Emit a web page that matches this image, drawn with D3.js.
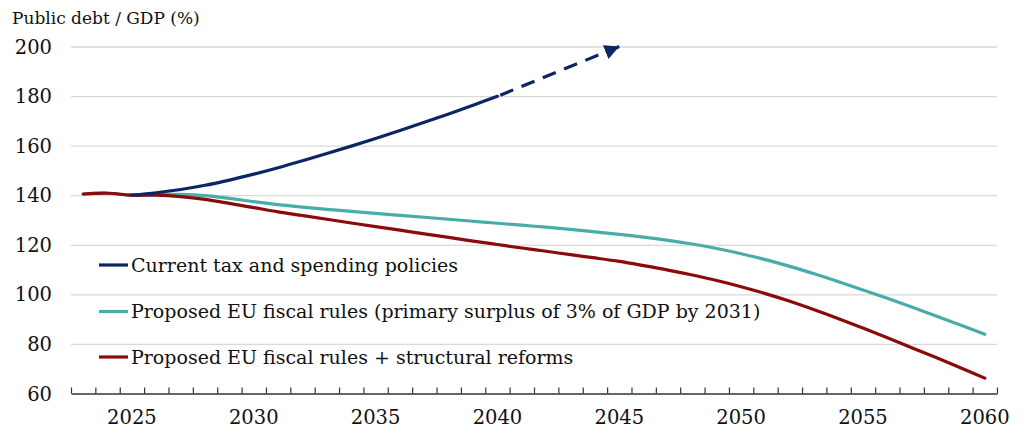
<!DOCTYPE html>
<html>
<head>
<meta charset="utf-8">
<script src="https://cdn.jsdelivr.net/npm/d3@7"></script>
<style>
  body { margin: 0; background: #fff; }
  svg { display: block; font-family: "DejaVu Serif", "Liberation Serif", serif; }
  .grid line { stroke: #d9d9d9; stroke-width: 1.3; }
  .grid path { display: none; }
</style>
</head>
<body>
<div id="chart"></div>
<script>
// years on the category axis
const years = d3.range(2023, 2061);
const labelYears = [2025, 2030, 2035, 2040, 2045, 2050, 2055, 2060];
const yTicks = [60, 80, 100, 120, 140, 160, 180, 200];

// Current tax and spending policies (2025-2040), then the projection arrow
const currentYears = d3.range(2025, 2041);
const currentValues = [140, 141, 142.3, 144, 146.1, 148.5, 151.1, 153.9, 156.8, 159.8, 162.9, 166.1, 169.4, 172.8, 176.3, 179.9];
const projectionYears = [2040, 2045];
const projectionValues = [179.9, 200];

// Proposed EU fiscal rules
const rulesValues = [140.5, 140.8, 140, 140.3, 140.3, 139.8, 138.7, 137.4, 136.2, 135.2, 134.3, 133.5, 132.7, 131.9, 131.1, 130.3, 129.5, 128.7, 127.9, 127.1, 126.2, 125.2, 124.2, 123.1, 121.8, 120.3, 118.5, 116.4, 114, 111.3, 108.3, 105.1, 101.8, 98.4, 94.9, 91.3, 87.6, 83.9];

// Proposed EU fiscal rules + structural reforms
const reformValues = [140.5, 140.8, 140, 140, 139.4, 138.3, 136.7, 135, 133.3, 131.8, 130.3, 128.8, 127.3, 125.9, 124.4, 123, 121.5, 120.1, 118.7, 117.4, 116, 114.7, 113.3, 111.6, 109.8, 107.8, 105.6, 103.1, 100.3, 97.2, 93.8, 90.2, 86.4, 82.5, 78.5, 74.5, 70.4, 66.2];

const seriesNames = [
    "Current tax and spending policies",
    "Proposed EU fiscal rules (primary surplus of 3% of GDP by 2031)",
    "Proposed EU fiscal rules + structural reforms"
];
const colors = ["#0d2567", "#4aaca8", "#8b0a0a"];

const width = 1024, height = 431;
const margin = {top: 46.5, right: 27, bottom: 37.5, left: 71};

const svg = d3.select("#chart").append("svg")
    .attr("width", width)
    .attr("height", height);

// category positions: each year sits in the middle of its slot
const x = d3.scaleLinear()
    .domain([2022.5, 2060.5])
    .range([margin.left, width - margin.right]);

const y = d3.scaleLinear()
    .domain([60, 200])
    .range([height - margin.bottom, margin.top]);

// gridlines
svg.append("g")
    .attr("class", "grid")
    .attr("transform", "translate(" + margin.left + ",0)")
    .call(d3.axisLeft(y).tickValues(yTicks.filter(d => d > 60))
        .tickSize(-(width - margin.left - margin.right)).tickFormat(""));

// y labels
svg.append("g")
    .selectAll("text")
    .data(yTicks)
    .join("text")
    .attr("x", 52)
    .attr("y", d => y(d))
    .attr("dy", "0.36em")
    .attr("text-anchor", "end")
    .style("font-size", "19.5px")
    .style("fill", "#111")
    .text(d => d);

// x axis: small ticks between categories
const xAxis = svg.append("g")
    .attr("class", "x-axis")
    .attr("transform", "translate(0," + y(60) + ")")
    .call(d3.axisBottom(x)
        .tickValues(d3.range(2022.5, 2061, 1))
        .tickSize(-6)
        .tickSizeOuter(0)
        .tickFormat(""));
xAxis.select(".domain").attr("stroke", "#333").attr("stroke-width", 1.3);
xAxis.selectAll(".tick line").attr("stroke", "#333").attr("stroke-width", 1.2);

svg.append("g")
    .selectAll("text")
    .data(labelYears)
    .join("text")
    .attr("x", d => x(d))
    .attr("y", 424)
    .attr("text-anchor", "middle")
    .style("font-size", "19.5px")
    .style("fill", "#111")
    .text(d => d);

// axis title
svg.append("text")
    .attr("x", 12)
    .attr("y", 24)
    .style("font-size", "17px")
    .style("fill", "#111")
    .text("Public debt / GDP (%)");

// lines
const line = d3.line()
    .x(d => x(d[0]))
    .y(d => y(d[1]))
    .curve(d3.curveCatmullRom.alpha(0.5));

const seriesData = [
    d3.zip(currentYears, currentValues),
    d3.zip(years, rulesValues),
    d3.zip(years, reformValues)
];

svg.append("defs").append("marker")
    .attr("id", "arrow")
    .attr("viewBox", "0 0 10 10")
    .attr("refX", 10)
    .attr("refY", 5)
    .attr("markerWidth", 4.6)
    .attr("markerHeight", 4.6)
    .attr("orient", "auto")
    .append("path")
    .attr("d", "M0,0L10,5L0,10z")
    .attr("fill", colors[0]);

svg.selectAll(".series")
    .data([seriesData[1], seriesData[2], seriesData[0]])
    .join("path")
    .attr("class", "series")
    .attr("fill", "none")
    .attr("stroke", (d, i) => [colors[1], colors[2], colors[0]][i])
    .attr("stroke-width", 3.2)
    .attr("stroke-linecap", "round")
    .attr("d", line);

// dashed projection with arrow head
svg.append("path")
    .attr("fill", "none")
    .attr("stroke", colors[0])
    .attr("stroke-width", 3.2)
    .attr("stroke-dasharray", "14,9")
    .attr("stroke-dashoffset", 20)
    .attr("marker-end", "url(#arrow)")
    .attr("d", d3.line().x(d => x(d[0])).y(d => y(d[1]))(d3.zip(projectionYears, projectionValues)));

// legend
const legendY = [265, 311.5, 357];
const legend = svg.append("g")
    .selectAll("g")
    .data(seriesNames)
    .join("g")
    .attr("transform", (d, i) => "translate(99," + legendY[i] + ")");

legend.append("line")
    .attr("x1", 0).attr("x2", 29)
    .attr("stroke", (d, i) => colors[i])
    .attr("stroke-width", 3.2);

legend.append("text")
    .attr("x", 32)
    .attr("dy", "0.36em")
    .style("font-size", "19px")
    .style("fill", "#111")
    .text(d => d);
</script>
</body>
</html>
